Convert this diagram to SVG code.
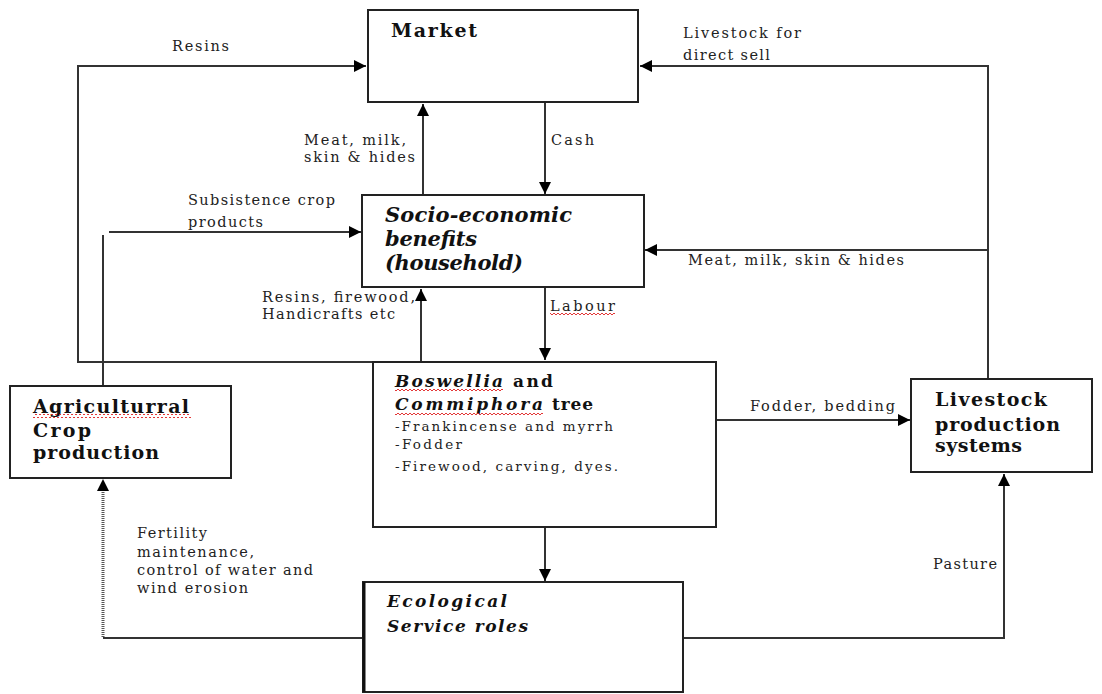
<svg xmlns="http://www.w3.org/2000/svg" width="1102" height="694" viewBox="0 0 1102 694">
<style>
.box{fill:#fff;stroke:#222;stroke-width:2}
.con{fill:none;stroke:#333;stroke-width:2}
.dot{fill:none;stroke:#555;stroke-width:3;stroke-dasharray:1 1}
.lbl{font-family:"DejaVu Serif","Liberation Serif",serif;font-size:14.5px;fill:#222}
.small{font-family:"DejaVu Serif","Liberation Serif",serif;font-size:13.5px;fill:#222}
.hb{font-family:"DejaVu Serif","Liberation Serif",serif;font-weight:bold;fill:#111}
.hbi{font-family:"DejaVu Serif","Liberation Serif",serif;font-weight:bold;font-style:italic;fill:#111}
</style>
<defs>
<marker id="arr" markerUnits="userSpaceOnUse" markerWidth="14" markerHeight="12" refX="12" refY="6" orient="auto">
<path d="M0,0 L12,6 L0,12 z" fill="#000"/>
</marker>
<pattern id="wavy" width="4" height="4" patternUnits="userSpaceOnUse">
<path d="M0,3 L2,1 L4,3" fill="none" stroke="#e02020" stroke-width="0.9"/>
</pattern>
</defs>

<g id="connectors">
<path class="con" d="M421,362 L78,362 L78,66 L366,66" marker-end="url(#arr)"/>
<path class="con" d="M421,362 L421,289" marker-end="url(#arr)"/>
<path class="con" d="M423,195 L423,104" marker-end="url(#arr)"/>
<path class="con" d="M545,102 L545,194" marker-end="url(#arr)"/>
<path class="con" d="M545,287 L545,360" marker-end="url(#arr)"/>
<path class="con" d="M545,508 L545,581" marker-end="url(#arr)"/>
<path class="con" d="M109,232 L361,232" marker-end="url(#arr)"/>
<path class="con" d="M103,235 L103,385"/>
<path class="con" d="M988,379 L988,66 L640,66" marker-end="url(#arr)"/>
<path class="con" d="M988,250 L645,250" marker-end="url(#arr)"/>
<path class="con" d="M716,420 L910,420" marker-end="url(#arr)"/>
<path class="con" d="M684,638 L1004,638 L1004,474" marker-end="url(#arr)"/>
<path class="con" d="M363,638 L103,638"/>
<path class="dot" d="M103,637 L103,492"/>
<path d="M97,491 L103,479 L109,491 z" fill="#000"/>
</g>

<g id="market">
<rect class="box" x="368" y="10" width="270" height="92"/>
<text class="hb" x="391" y="37" font-size="19" textLength="86">Market</text>
</g>

<g id="socio">
<rect class="box" x="362" y="195" width="282" height="92"/>
<text class="hbi" x="385" y="222" font-size="21" textLength="187">Socio-economic</text>
<text class="hbi" x="385" y="246" font-size="21" textLength="92">benefits</text>
<text class="hbi" x="385" y="270" font-size="21" textLength="138">(household)</text>
</g>

<g id="boswellia">
<rect class="box" x="373" y="362" width="343" height="165"/>
<text class="hbi" x="395" y="387" font-size="17" textLength="108">Boswellia</text>
<text class="hb" x="513" y="387" font-size="17" textLength="40">and</text>
<text class="hbi" x="395" y="410" font-size="17" textLength="148">Commiphora</text>
<text class="hb" x="552" y="410" font-size="17" textLength="41">tree</text>
<text class="small" x="395" y="431" textLength="218">-Frankincense and myrrh</text>
<text class="small" x="395" y="449" textLength="67">-Fodder</text>
<text class="small" x="395" y="471" textLength="223">-Firewood, carving, dyes.</text>
<rect x="395" y="389" width="108" height="4" fill="url(#wavy)"/>
<rect x="395" y="412" width="148" height="4" fill="url(#wavy)"/>
</g>

<g id="agri">
<rect class="box" x="10" y="386" width="221" height="92"/>
<text class="hb" x="33" y="413" font-size="19" textLength="156">Agriculturral</text>
<text class="hb" x="33" y="437" font-size="19" textLength="58">Crop</text>
<text class="hb" x="33" y="459" font-size="19" textLength="126">production</text>
<rect x="33" y="414" width="158" height="4" fill="url(#wavy)"/>
</g>

<g id="livestock">
<rect class="box" x="911" y="379" width="181" height="93"/>
<text class="hb" x="935" y="406" font-size="19" textLength="112">Livestock</text>
<text class="hb" x="935" y="431" font-size="19" textLength="125">production</text>
<text class="hb" x="935" y="452" font-size="19" textLength="87">systems</text>
</g>

<g id="ecological">
<rect class="box" x="363" y="582" width="320" height="110"/>
<line x1="364" y1="582" x2="364" y2="692" stroke="#111" stroke-width="3"/>
<text class="hbi" x="387" y="607" font-size="17" textLength="120">Ecological</text>
<text class="hbi" x="387" y="632" font-size="17" textLength="141">Service roles</text>
</g>

<g id="labels">
<text class="lbl" x="172" y="51" textLength="57">Resins</text>
<text class="lbl" x="683" y="38" textLength="118">Livestock for</text>
<text class="lbl" x="683" y="60" textLength="87">direct sell</text>
<text class="lbl" x="304" y="145" textLength="102">Meat, milk,</text>
<text class="lbl" x="304" y="162" textLength="111">skin &amp; hides</text>
<text class="lbl" x="551" y="145" textLength="43">Cash</text>
<text class="lbl" x="188" y="205" textLength="147">Subsistence crop</text>
<text class="lbl" x="188" y="227" textLength="75">products</text>
<text class="lbl" x="688" y="265" textLength="216">Meat, milk, skin &amp; hides</text>
<text class="lbl" x="550" y="311" textLength="65">Labour</text>
<rect x="550" y="313" width="65" height="4" fill="url(#wavy)"/>
<text class="lbl" x="262" y="302" textLength="153">Resins, firewood,</text>
<text class="lbl" x="262" y="319" textLength="133">Handicrafts etc</text>
<text class="lbl" x="750" y="411" textLength="145">Fodder, bedding</text>
<text class="lbl" x="137" y="538" textLength="70">Fertility</text>
<text class="lbl" x="137" y="557" textLength="117">maintenance,</text>
<text class="lbl" x="137" y="575" textLength="176">control of water and</text>
<text class="lbl" x="137" y="593" textLength="111">wind erosion</text>
<text class="lbl" x="933" y="569" textLength="64">Pasture</text>
</g>
</svg>
